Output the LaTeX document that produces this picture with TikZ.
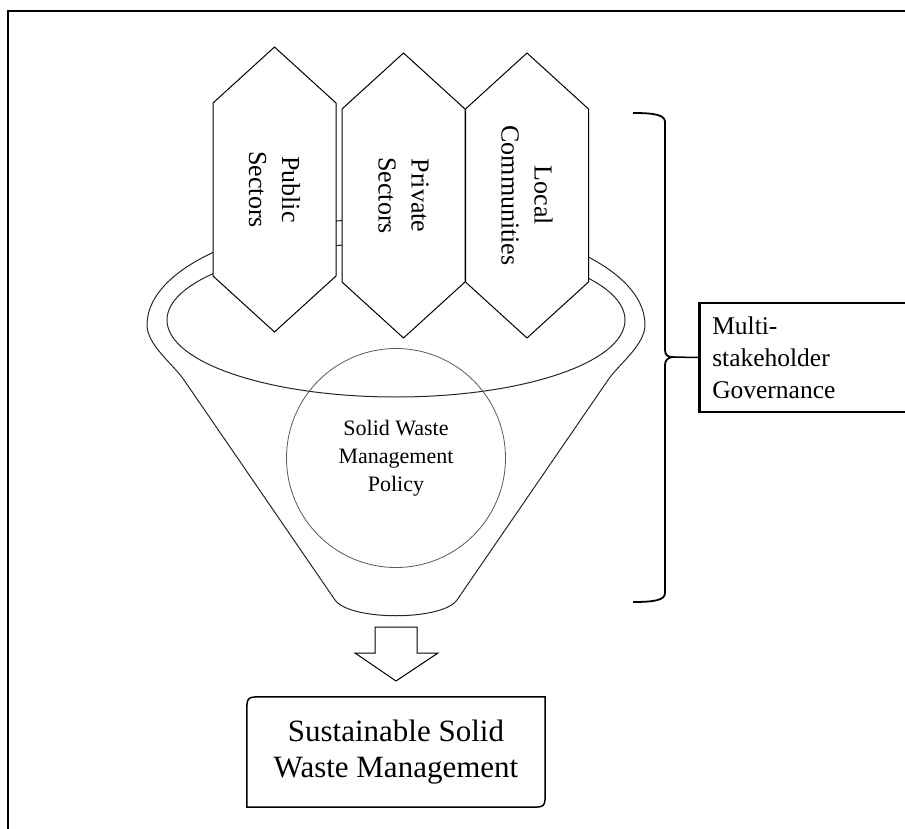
\documentclass[tikz,border=0pt]{standalone}
\usepackage{fontspec}
\setmainfont{Liberation Serif}
\usetikzlibrary{calc}

\begin{document}
\begin{tikzpicture}[x=1pt, y=-1pt,
    funnel/.style={draw=black!85, line width=1pt},
    hexa/.style={draw=black, line width=1pt, fill=white},
    hexlabel/.style={rotate=-90, align=center, font=\fontsize{26}{33}\selectfont},
    policy/.style={circle, draw=black!65, line width=0.8pt, minimum size=219pt, align=center, font=\fontsize{22}{28}\selectfont},
    govbox/.style={draw, line width=2.5pt, minimum height=109pt, text width=260pt, inner xsep=13pt, align=left, font=\fontsize{25.5}{32}\selectfont},
    goalbox/.style={minimum width=298pt, minimum height=110pt, align=center, font=\fontsize{31}{36}\selectfont}]
        \useasboundingbox (0,0) rectangle (905,829);
        % Frame
        \draw[line width=1.5pt] (8,11) rectangle (1000,900);

        % Funnel
        \draw[funnel] (147,325) arc[start angle=180, end angle=360, x radius=249, y radius=107]
            .. controls (645,345) and (618,365) .. (608,380)
            -- (457,600) .. controls (442,621) and (350,621) .. (335,600)
            -- (184,380) .. controls (174,365) and (147,345) .. (147,325) -- cycle;
        \draw[funnel] (396,320) ellipse [x radius=229, y radius=77];

        % Stakeholders
        \foreach \cx/\ty/\nm/\lbl in {274.5/47/pub/{Public\\Sectors}, 403.5/53/priv/{Private\\Sectors}, 527/53/loc/{Local\\Communities}} {
            \draw[hexa] (\cx,\ty) -- ++(61.5,56) -- ++(0,173) -- ++(-61.5,56) -- ++(-61.5,-56) -- ++(0,-173) -- cycle;
            \node[hexlabel] (\nm) at (\cx,\ty+142.5) {\lbl};
        }

        % Policy
        \node[policy] (swm) at (396,458) {Solid Waste\\Management\\Policy};

        % Governance bracket
        \coordinate (tip) at (672,357);
        \draw[line width=1.8pt] (633,113) .. controls (655,113) and (665,115) .. (665,122)
            -- (665,350) .. controls (665,355) and (668,357) .. (tip)
            .. controls (668,358) and (665,360) .. (665,365)
            -- (665,593) .. controls (665,600) and (655,602) .. (633,602);
        \node[govbox, anchor=west] (gov) at (698,357.5) {Multi-\\stakeholder\\Governance};
        \draw[line width=1.5pt] (tip) -- (gov.west);

        % Outcome
        \draw[line width=1pt] (375,627) -- (417,627) -- (417,653) -- (438,653) -- (396,681) -- (355,653) -- (375,653) -- cycle;
        \node[goalbox] (goal) at (396,752) {Sustainable Solid\\Waste Management};
        \draw[line width=1.5pt] (goal.north east) -- ($(goal.south east)+(0,-16)$)
            .. controls (goal.south east) .. ($(goal.south east)+(-16,0)$)
            -- (goal.south west) -- ($(goal.north west)+(0,16)$)
            .. controls (goal.north west) .. ($(goal.north west)+(16,0)$) -- cycle;
    \end{tikzpicture}
\end{document}
